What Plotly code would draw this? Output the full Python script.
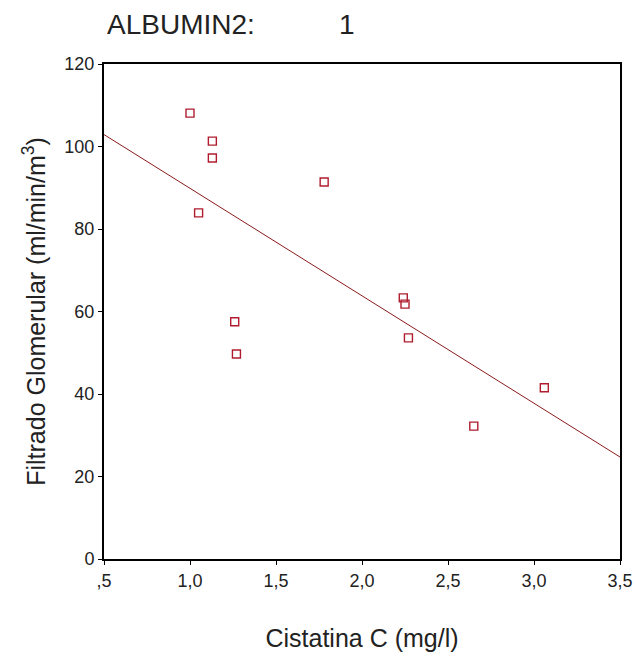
import numpy as np
import plotly.graph_objects as go

cistatina = [1.00, 1.13, 1.13, 1.05, 1.26, 1.27, 1.78, 2.24, 2.25, 2.27, 2.65, 3.06]
filtrado = [108.1, 101.3, 97.2, 83.9, 57.5, 49.7, 91.4, 63.3, 61.8, 53.6, 32.2, 41.5]

x_ticks = [0.5, 1.0, 1.5, 2.0, 2.5, 3.0, 3.5]
x_ticktext = [",5", "1,0", "1,5", "2,0", "2,5", "3,0", "3,5"]
y_ticks = [0, 20, 40, 60, 80, 100, 120]

slope, intercept = np.polyfit(cistatina, filtrado, 1)
fit_x = np.array([x_ticks[0], x_ticks[-1]])
fit_y = intercept + slope * fit_x

font = "Liberation Sans, Arial, sans-serif"

W, H = 636, 657
L, R, T, B = 104, 16, 64, 98
pw, ph = W - L - R, H - T - B

fig = go.Figure()
fig.add_trace(go.Scatter(x=fit_x, y=fit_y, mode="lines",
                         line=dict(color="#8b1a1a", width=1), showlegend=False))
fig.add_trace(go.Scatter(x=cistatina, y=filtrado, mode="markers",
                         marker=dict(symbol="square-open", size=8,
                                     color="#b01c2e", line=dict(width=1.4)),
                         showlegend=False))

fig.update_layout(
    width=W, height=H,
    margin=dict(l=L, r=R, t=T, b=B, autoexpand=False),
    paper_bgcolor="white", plot_bgcolor="white",
    font=dict(family=font, color="#222"),
    xaxis=dict(range=[0.5, 3.5], tickvals=x_ticks, ticktext=x_ticktext,
               showgrid=False, zeroline=False, showline=True, mirror=True,
               linecolor="black", linewidth=2, ticks="outside", ticklen=4,
               tickcolor="black", tickfont=dict(size=18, family=font),
               title=dict(text="Cistatina C (mg/l)", font=dict(size=25, family=font),
                          standoff=40)),
    yaxis=dict(range=[0, 120], tickvals=y_ticks,
               showgrid=False, zeroline=False, showline=True, mirror=True,
               linecolor="black", linewidth=2, ticks="outside", ticklen=4,
               tickcolor="black", tickfont=dict(size=18, family=font),
               title=dict(text="Filtrado Glomerular (ml/min/m<sup>3</sup>)",
                          font=dict(size=25, family=font), standoff=12)),
    annotations=[
        dict(text="ALBUMIN2:", xref="paper", yref="paper",
             x=(105 - L) / pw, y=1 + (T - 25) / ph,
             xanchor="left", yanchor="middle", showarrow=False,
             font=dict(size=28, family=font, color="#222")),
        dict(text="1", xref="paper", yref="paper",
             x=(347 - L) / pw, y=1 + (T - 25) / ph,
             xanchor="center", yanchor="middle", showarrow=False,
             font=dict(size=28, family=font, color="#222")),
    ],
)

fig.write_html("out.html",
               config={"displayModeBar": False},
               post_script="document.body.style.margin='0';"
                           "document.body.style.overflow='hidden';")
